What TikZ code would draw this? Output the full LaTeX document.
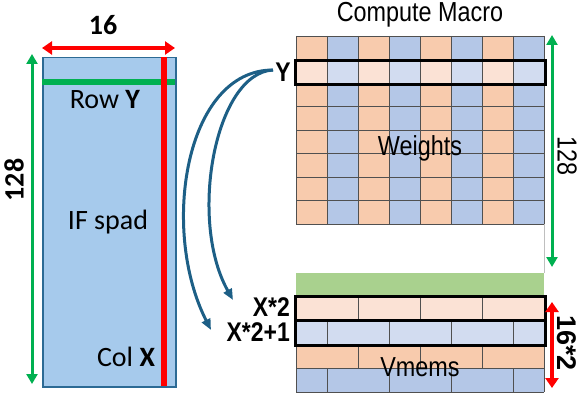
\documentclass[tikz,border=0pt]{standalone}
\usepackage{fontspec}
\setmainfont{Liberation Sans}
\newfontfamily\narrowfont[FakeStretch=0.85]{Liberation Sans}
\newfontfamily\calfont{Carlito}
\usetikzlibrary{arrows.meta}
\definecolor{cOr}{HTML}{F8CBAD}
\definecolor{cBl}{HTML}{B4C7E7}
\definecolor{cOrL}{HTML}{FBE2D5}
\definecolor{cBlL}{HTML}{D2DCF0}
\definecolor{cGr}{HTML}{A9D18E}
\definecolor{cIF}{HTML}{A6CAEC}
\definecolor{cIFb}{HTML}{2C6A94}
\definecolor{cCurve}{HTML}{1D5F86}
\definecolor{cGreen}{HTML}{00B050}
\definecolor{cRed}{HTML}{FF0000}
\definecolor{cGrid}{HTML}{505050}
\tikzset{
  lbl/.style={font=\narrowfont\fontsize{27.5}{30}\selectfont, inner sep=0pt},
  lblb/.style={font=\narrowfont\bfseries\fontsize{27}{30}\selectfont, inner sep=0pt},
  cal/.style={font=\calfont\fontsize{28}{30}\selectfont, inner sep=0pt},
  calb/.style={font=\calfont\bfseries\fontsize{28}{30}\selectfont, inner sep=0pt},
  gridline/.style={draw=cGrid, line width=0.8pt},
  selbox/.style={draw=black, line width=2.5pt, inner sep=0pt, minimum width=250pt, anchor=north west},
  dimred/.style={cRed, line width=4pt, {Triangle[length=10pt,width=13pt]}-{Triangle[length=10pt,width=13pt]}},
  dimgreen/.style={cGreen, line width=3pt, {Triangle[length=10pt,width=11pt]}-{Triangle[length=10pt,width=11pt]}},
  curve/.style={cCurve, line width=3pt, -{Triangle[length=11pt,width=9pt]}}
}
\begin{document}
\begin{tikzpicture}[x=1pt,y=-1pt]
\useasboundingbox (0,0) rectangle (581,396);

% ---------- left: IF spad ----------
\node[draw=cIFb, fill=cIF, line width=1.5pt, minimum width=133pt, minimum height=329pt,
      inner sep=0pt, anchor=north west] (ifs) at (42,57) {};
\draw[cGreen, line width=6pt] (42,82) -- (175,82);
\draw[cRed, line width=6pt] (164,57) -- (164,386);
\node[cal] (rowy) at (105,100) {Row \textbf{Y}};
\node[cal] (ifsp) at (108,222) {IF spad};
\node[cal] (colx) at (126,357) {Col \textbf{X}};
\node[calb] (n16) at (103,25) {16};
\node[calb, rotate=90] (n128l) at (14,180) {128};
\coordinate (ra) at (42,48);
\coordinate (rb) at (175,48);
\draw[dimred] (ra) -- (rb);
\coordinate (ga) at (32,54);
\coordinate (gb) at (32,384);
\draw[dimgreen] (ga) -- (gb);

% ---------- right: compute macro ----------
% weights columns
\foreach \c in {0,2,4,6} \fill[cOr] (296+31*\c,36) rectangle (327+31*\c,224);
\foreach \c in {1,3,5,7} \fill[cBl] (296+31*\c,36) rectangle (327+31*\c,224);
% highlighted Y row
\foreach \c in {0,2,4,6} \fill[cOrL] (296+31*\c,59.5) rectangle (327+31*\c,83);
\foreach \c in {1,3,5,7} \fill[cBlL] (296+31*\c,59.5) rectangle (327+31*\c,83);
\foreach \c in {0,...,8} \draw[gridline] (296+31*\c,36) -- (296+31*\c,224);
\foreach \r in {0,...,8} \draw[gridline] (296,36+23.5*\r) -- (544,36+23.5*\r);
% gap
\draw[gray!50, line width=0.6pt] (544,224) -- (544,273);
% green band
\fill[cGr] (296,273) rectangle (544,295);
% vmem rows
\fill[cOrL] (296,295) rectangle (544,319);
\fill[cBlL] (296,319) rectangle (544,344);
\fill[cOr] (296,344) rectangle (544,368);
\fill[cBl] (296,368) rectangle (544,392);
\foreach \y in {295,319,344,368,392} \draw[gridline] (296,\y) -- (544,\y);
\foreach \x in {296,358,420,482,544} {
  \draw[gridline] (\x,295) -- (\x,319);
  \draw[gridline] (\x,344) -- (\x,368);
}
\foreach \x in {296,327,389,451,513,544} {
  \draw[gridline] (\x,319) -- (\x,344);
  \draw[gridline] (\x,368) -- (\x,392);
}
% selection boxes
\node[selbox, minimum height=23.5pt] (yrow) at (294,59.5) {};
\node[selbox, minimum height=24pt] (x2row) at (294,295) {};
\node[selbox, minimum height=25pt] (x21row) at (294,319) {};

% labels
\node[lbl] (title) at (420,15) {Compute Macro};
\node[lbl] (weights) at (420,148) {Weights};
\node[lbl] (vmems) at (420,367) {Vmems};
\node[lblb, anchor=east] (ylab) at (291,72) {Y};
\node[lblb, anchor=east] (x2lab) at (290,307) {X*2};
\node[lblb, anchor=east] (x21lab) at (290,332) {X*2+1};

% curves
\coordinate (ystart) at (273,70);
\coordinate (tipA) at (233,300);
\coordinate (tipB) at (211,330);
\draw[curve] (ystart) .. controls (215,73) and (188,220) .. (tipA);
\draw[curve] (ystart) .. controls (185,70) and (160,230) .. (tipB);

% right dimension arrows
\coordinate (g2a) at (552,35);
\coordinate (g2b) at (552,267);
\draw[dimgreen] (g2a) -- (g2b);
\coordinate (r2a) at (552,302);
\coordinate (r2b) at (552,388);
\draw[dimred] (r2a) -- (r2b);
\node[lbl, rotate=-90] (n128r) at (567,156) {128};
\node[lblb, rotate=-90, font=\bfseries\fontsize{27}{29}\selectfont] (n162) at (567,343) {16*2};
\end{tikzpicture}
\end{document}
